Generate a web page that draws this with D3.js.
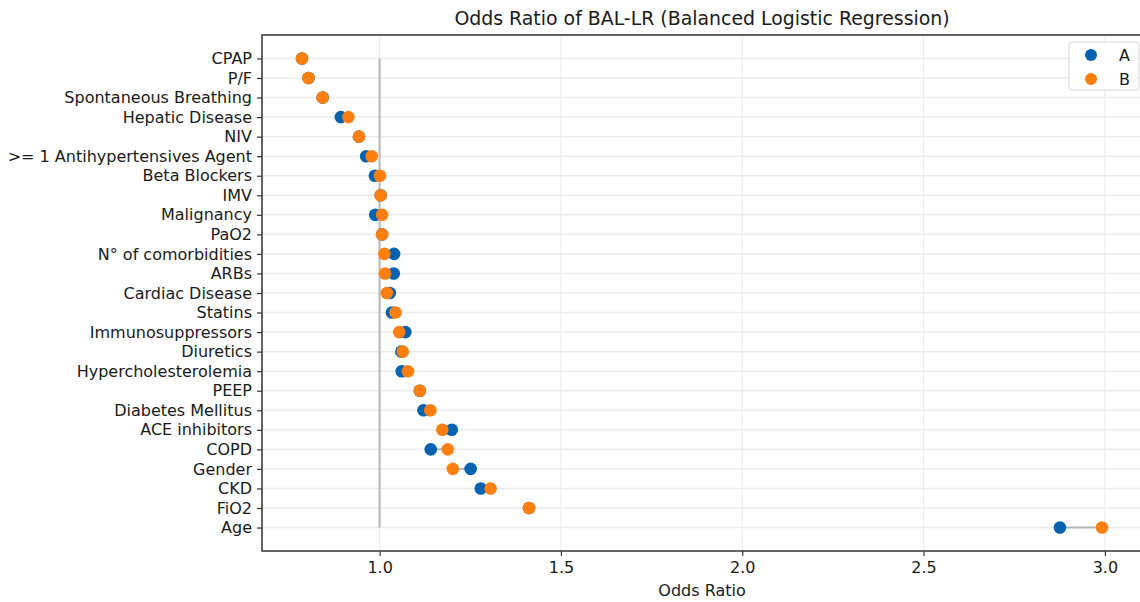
<!DOCTYPE html>
<html>
<head>
<meta charset="utf-8">
<script src="https://cdn.jsdelivr.net/npm/d3@7"></script>
<style>
  body { margin: 0; background: #fff; }
  svg { font-family: "DejaVu Sans", sans-serif; }
</style>
</head>
<body>
<div id="chart"></div>
<script>
// Categories, top to bottom
const features = [
  "CPAP", "P/F", "Spontaneous Breathing", "Hepatic Disease", "NIV",
  ">= 1 Antihypertensives Agent", "Beta Blockers", "IMV", "Malignancy", "PaO2",
  "N° of comorbidities", "ARBs", "Cardiac Disease", "Statins", "Immunosuppressors",
  "Diuretics", "Hypercholesterolemia", "PEEP", "Diabetes Mellitus", "ACE inhibitors",
  "COPD", "Gender", "CKD", "FiO2", "Age"
]
const oddsA = [
  0.786, 0.804, 0.843, 0.893, 0.943,
  0.963, 0.987, 1.003, 0.988, 1.007,
  1.040, 1.039, 1.028, 1.034, 1.071,
  1.060, 1.061, 1.111, 1.121, 1.199,
  1.141, 1.251, 1.279, 1.412, 2.876
]
const oddsB = [
  0.786, 0.804, 0.843, 0.914, 0.943,
  0.978, 1.001, 1.003, 1.007, 1.007,
  1.013, 1.015, 1.020, 1.044, 1.054,
  1.064, 1.078, 1.111, 1.140, 1.173,
  1.188, 1.202, 1.306, 1.412, 2.992
]
const xTicks = [1.0, 1.5, 2.0, 2.5, 3.0]
const seriesNames = ["A", "B"]
const colors = { A: "#0062b0", B: "#ff7f0e" }

const dimensions = {
  width: 1140,
  height: 602,
  margin: { top: 35, right: -2, bottom: 51, left: 262 }
}
dimensions.boundedWidth = dimensions.width - dimensions.margin.left - dimensions.margin.right
dimensions.boundedHeight = dimensions.height - dimensions.margin.top - dimensions.margin.bottom

// matplotlib-style 5% margins around the data
const allValues = oddsA.concat(oddsB)
const [xMin, xMax] = d3.extent(allValues)
const xPad = (xMax - xMin) * 0.05
const xScale = d3.scaleLinear()
  .domain([xMin - xPad, xMax + xPad])
  .range([0, dimensions.boundedWidth])

const n = features.length
const yScale = d3.scalePoint()
  .domain(features)
  .range([0, dimensions.boundedHeight])
  .padding((n - 1) * 0.05)

const svg = d3.select("#chart").append("svg")
  .attr("width", dimensions.width)
  .attr("height", dimensions.height)

const bounds = svg.append("g")
  .attr("transform", `translate(${dimensions.margin.left},${dimensions.margin.top})`)

// Grid
bounds.append("g")
  .selectAll("line")
  .data(xTicks)
  .join("line")
    .attr("x1", d => xScale(d)).attr("x2", d => xScale(d))
    .attr("y1", 0).attr("y2", dimensions.boundedHeight)
    .attr("stroke", "#ebebeb").attr("stroke-width", 1)

bounds.append("g")
  .selectAll("line")
  .data(features)
  .join("line")
    .attr("x1", 0).attr("x2", dimensions.boundedWidth)
    .attr("y1", d => yScale(d)).attr("y2", d => yScale(d))
    .attr("stroke", "#ebebeb").attr("stroke-width", 1.5)

// Reference line at OR = 1
bounds.append("line")
  .attr("x1", xScale(1)).attr("x2", xScale(1))
  .attr("y1", yScale(features[0])).attr("y2", yScale(features[n - 1]))
  .attr("stroke", "#bbbbbb").attr("stroke-width", 2.2)

// Connectors between A and B
bounds.append("g")
  .selectAll("line")
  .data(features)
  .join("line")
    .attr("x1", (d, i) => xScale(oddsA[i]))
    .attr("x2", (d, i) => xScale(oddsB[i]))
    .attr("y1", d => yScale(d)).attr("y2", d => yScale(d))
    .attr("stroke", "#b5b5b5").attr("stroke-width", 2)

// Points
const drawPoints = (values, color) => {
  bounds.append("g")
    .selectAll("circle")
    .data(features)
    .join("circle")
      .attr("cx", (d, i) => xScale(values[i]))
      .attr("cy", d => yScale(d))
      .attr("r", 6.3)
      .attr("fill", color)
}
drawPoints(oddsA, colors.A)
drawPoints(oddsB, colors.B)

// Axes
const xAxis = bounds.append("g")
  .attr("transform", `translate(0,${dimensions.boundedHeight})`)
  .call(d3.axisBottom(xScale).tickValues(xTicks).tickFormat(d3.format(".1f"))
    .tickSize(5).tickPadding(6).tickSizeOuter(0))
xAxis.attr("font-family", null).attr("font-size", null)
xAxis.select(".domain").remove()
xAxis.selectAll("text").style("font-size", "16px").attr("fill", "#1a1a1a")
xAxis.selectAll("line").attr("stroke", "#333").attr("stroke-width", 1.2)

const yAxis = bounds.append("g")
  .call(d3.axisLeft(yScale).tickSize(5).tickPadding(5).tickSizeOuter(0))
yAxis.attr("font-family", null).attr("font-size", null)
yAxis.select(".domain").remove()
yAxis.selectAll("text").style("font-size", "16px").attr("fill", "#1a1a1a")
yAxis.selectAll("line").attr("stroke", "#333").attr("stroke-width", 1.2)

// Spines
bounds.append("rect")
  .attr("width", dimensions.boundedWidth)
  .attr("height", dimensions.boundedHeight)
  .attr("fill", "none")
  .attr("stroke", "#333")
  .attr("stroke-width", 1.5)

// Title and label
svg.append("text")
  .attr("x", dimensions.margin.left + (1142 - dimensions.margin.left) / 2)
  .attr("y", 25)
  .attr("text-anchor", "middle")
  .style("font-size", "18.9px")
  .attr("fill", "#1a1a1a")
  .text("Odds Ratio of BAL-LR (Balanced Logistic Regression)")

svg.append("text")
  .attr("x", dimensions.margin.left + (1142 - dimensions.margin.left) / 2)
  .attr("y", 596)
  .attr("text-anchor", "middle")
  .style("font-size", "16px")
  .attr("fill", "#1a1a1a")
  .text("Odds Ratio")

// Legend
const legend = svg.append("g").attr("transform", "translate(1069,42)")
legend.append("rect")
  .attr("width", 70).attr("height", 48).attr("rx", 3)
  .attr("fill", "rgba(255,255,255,0.85)")
  .attr("stroke", "#d6d6d6").attr("stroke-width", 1)
seriesNames.forEach((name, i) => {
  legend.append("circle")
    .attr("cx", 22).attr("cy", 13 + i * 24).attr("r", 6)
    .attr("fill", colors[name])
  legend.append("text")
    .attr("x", 50).attr("y", 13 + i * 24).attr("dy", "0.35em")
    .style("font-size", "16px").attr("fill", "#1a1a1a")
    .text(name)
})
</script>
</body>
</html>
